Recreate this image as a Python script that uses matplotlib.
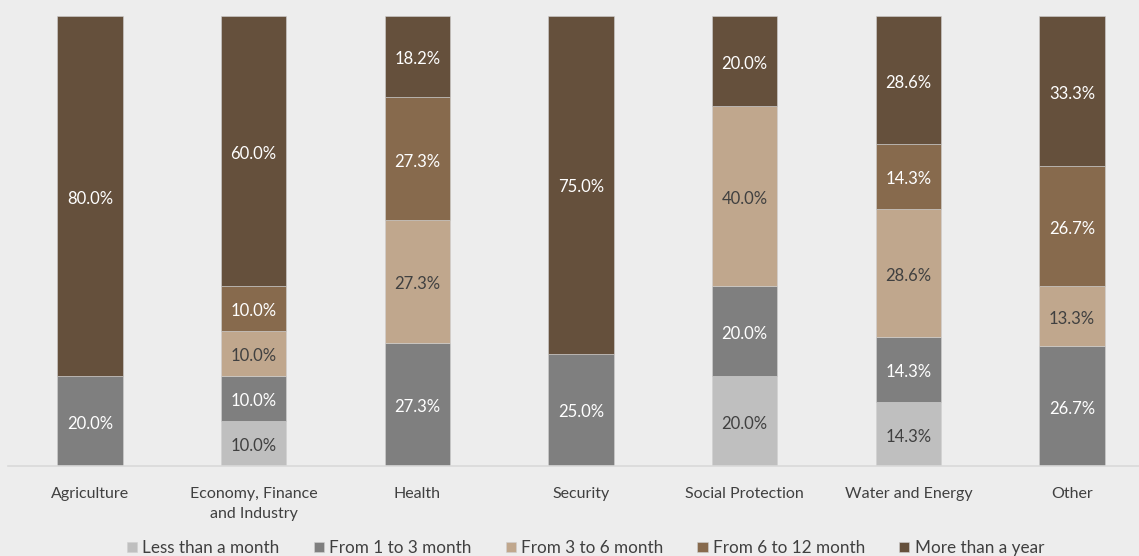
import numpy as np
import matplotlib.pyplot as plt

# Data (percent of each sector)
sectors = ['Agriculture', 'Economy, Finance\nand Industry', 'Health', 'Security',
           'Social Protection', 'Water and Energy', 'Other']
durations = ['Less than a month', 'From 1 to 3 month', 'From 3 to 6 month',
             'From 6 to 12 month', 'More than a year']
less_month = [0, 10.0, 0, 0, 20.0, 14.3, 0]
m1_3 = [20.0, 10.0, 27.3, 25.0, 20.0, 14.3, 26.7]
m3_6 = [0, 10.0, 27.3, 0, 40.0, 28.6, 13.3]
m6_12 = [0, 10.0, 27.3, 0, 0, 14.3, 26.7]
over_year = [80.0, 60.0, 18.2, 75.0, 20.0, 28.6, 33.3]

series = [less_month, m1_3, m3_6, m6_12, over_year]
colors = ['#BFBFBF', '#7F7F7F', '#C0A78D', '#876A4D', '#65503C']
text_colors = ['#404040', 'white', '#404040', 'white', 'white']

plt.rcParams['font.family'] = ['Lato', 'DejaVu Sans']

bg = '#EDEDED'
fig = plt.figure(figsize=(11.39, 5.56), dpi=100, facecolor=bg)
ax = fig.add_axes([8 / 1139, 90 / 556, 7 * 163.7 / 1139, 450 / 556])
ax.set_facecolor(bg)

x = np.arange(len(sectors))
bottom = np.zeros(len(sectors))
for vals, col, tcol, name in zip(series, colors, text_colors, durations):
    vals = np.array(vals)
    ax.bar(x, vals, 0.4, bottom=bottom, color=col, label=name,
           edgecolor='#D0D0D0', linewidth=0.4)
    for xi, v, b in zip(x, vals, bottom):
        if v > 0:
            ax.text(xi, b + v / 2 - 0.6, f'{v:.1f}%', ha='center', va='center',
                    color=tcol, fontsize=12)
    bottom += vals

ax.set_xlim(-0.5, 6.5)
ax.set_ylim(0, 100)
ax.set_yticks([])
ax.set_xticks(x)
ax.set_xticklabels(sectors, fontsize=11.5, color='#404040', linespacing=1.6)
ax.tick_params(axis='x', length=0, pad=15)
for s in ['top', 'right', 'left']:
    ax.spines[s].set_visible(False)
ax.spines['bottom'].set_color('#D9D9D9')
ax.spines['bottom'].set_linewidth(1.2)

handles, labels = ax.get_legend_handles_labels()
fig.legend(handles, labels, loc='center', bbox_to_anchor=(0.514, 1 - 548 / 556),
           ncol=5, frameon=False, fontsize=12.3, handlelength=0.6,
           handleheight=0.6, handletextpad=0.3, columnspacing=2.0,
           labelcolor='#404040', borderpad=0)

fig.savefig('out.png', dpi=100, facecolor=bg)
